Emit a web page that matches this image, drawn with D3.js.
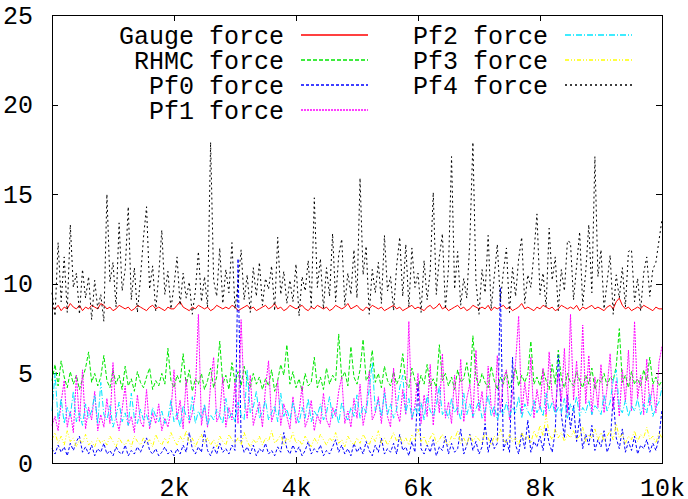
<!DOCTYPE html>
<html lang="en">
<head>
<meta charset="UTF-8"/>
<title>Forces</title>
<script src="https://d3js.org/d3.v7.min.js"></script>
<style>
  body { margin: 0; background-color: #fff; }
  text { font-family: "Liberation Mono", "Courier New", monospace; font-size: 25px; fill: #000; }
  .frame { fill: none; stroke: #000; stroke-width: 1; shape-rendering: crispEdges; }
  .axis .domain { display: none; }
  .axis line { stroke: #000; shape-rendering: crispEdges; }
  .series { fill: none; stroke-width: 1; }
  .keyline { stroke-width: 1.6; }
</style>
</head>
<body>
<div id="chart"></div>
<script>
// one sample every 50 steps, 0 .. 10000
var stepSize = 50;

var gauge = [
 8.7,8.6,8.8,8.5,8.7,8.6,8.9,8.7,8.6,8.8, 8.5,8.7,8.6,8.8,8.7,8.6,8.9,8.8,8.6,8.7,
 8.5,8.6,8.8,8.7,8.6,8.7,8.5,8.6,8.8,8.7, 8.6,8.5,8.7,8.8,8.6,8.7,8.6,8.5,8.7,8.6,
 8.6,8.8,9.0,8.7,8.6,8.5,8.7,8.6,8.8,8.7, 8.6,8.7,8.5,8.6,8.8,8.7,8.6,8.7,8.6,8.8,
 8.7,8.5,8.6,8.7,8.8,8.6,8.7,8.5,8.6,8.7, 8.8,8.6,8.7,8.9,8.6,8.7,8.5,8.6,8.8,8.7,
 8.6,8.7,8.8,8.6,8.5,8.7,8.6,8.8,8.7,8.6, 8.7,8.5,8.6,8.8,8.7,8.6,8.7,8.9,8.6,8.7,
 8.8,8.6,8.5,8.7,8.6,8.8,8.7,8.6,8.7,8.5, 8.6,8.7,8.8,8.6,8.7,8.5,8.6,8.7,8.8,8.6,
 8.7,8.6,8.5,8.7,8.8,8.6,8.7,8.9,8.6,8.7, 8.5,8.6,8.7,8.8,8.6,8.7,8.5,8.6,8.8,8.7,
 8.6,8.7,8.6,8.8,8.5,8.7,8.6,8.7,8.8,8.6, 8.7,8.5,8.6,8.7,8.9,8.6,8.7,8.6,8.5,8.7,
 8.6,8.8,8.7,8.6,8.7,8.5,8.6,8.8,8.7,8.6, 8.7,8.6,8.8,8.5,8.7,8.6,8.7,8.8,8.6,8.7,
 8.6,8.5,8.7,8.8,8.6,9.0,9.2,8.8,8.6,8.7, 8.5,8.6,8.7,8.6,8.8,8.7,8.6,8.5,8.7,8.6,
 8.6];

var rhmc = [
 4.6,5.5,4.3,5.7,4.8,4.2,5.1,4.4,4.9,4.1, 4.7,5.3,6.2,4.5,5.0,4.3,4.8,6.0,4.6,4.2,
 5.2,4.4,4.9,4.1,5.4,4.3,4.7,4.0,5.1,4.5, 4.2,4.8,5.3,4.1,4.6,4.3,5.0,4.4,6.4,4.6,
 4.2,4.9,4.5,6.1,4.3,5.2,4.0,4.7,4.4,5.0, 4.1,4.6,5.3,4.2,4.8,6.8,4.4,4.9,4.1,5.6,
 4.5,5.1,4.3,5.4,4.6,4.2,5.0,4.4,4.8,4.1, 4.7,4.3,5.2,4.0,4.6,5.5,4.9,6.6,4.4,5.1,
 4.2,4.7,4.0,5.0,4.3,4.5,5.9,4.2,4.8,4.1, 5.3,4.4,4.9,4.6,7.2,4.7,5.1,4.3,6.5,4.8,
 4.4,5.2,6.9,4.6,4.9,6.3,4.5,5.0,4.2,5.4, 4.6,4.3,5.1,4.4,4.8,6.1,4.5,4.2,5.3,4.6,
 4.1,4.9,4.4,5.5,4.3,4.7,4.2,6.6,4.6,5.0, 4.3,4.8,4.1,5.2,4.5,4.7,5.6,4.4,7.1,4.8,
 4.3,5.0,4.5,4.2,5.4,4.6,4.1,4.8,4.4,5.1, 4.2,4.7,5.3,4.3,4.9,4.5,5.0,6.8,4.4,4.8,
 4.3,5.2,4.6,4.1,5.5,4.4,6.3,4.7,4.2,5.0, 4.5,4.3,5.1,4.6,4.2,4.9,4.4,5.3,4.1,4.7,
 4.5,5.0,4.3,4.8,4.6,5.4,7.5,4.5,4.9,4.2, 5.1,4.4,4.7,4.3,5.2,4.6,5.9,4.4,4.8,4.3,
 4.6];

var pf0 = [
 0.8,0.5,1.0,0.6,0.9,0.4,1.1,0.7,1.2,1.5, 0.6,0.9,0.5,1.0,0.4,0.8,0.6,1.1,0.5,0.7,
 0.4,0.9,0.6,0.5,1.0,0.4,0.7,0.5,0.9,0.6, 1.0,1.4,0.7,0.5,0.8,0.4,0.6,0.9,0.5,0.7,
 0.4,0.8,0.5,1.0,0.6,1.7,0.8,0.5,0.9,0.6, 1.8,0.7,0.4,0.9,0.5,1.1,0.6,0.8,0.5,1.0,
 0.7,11.4,1.2,0.6,0.9,0.5,1.0,0.4,0.8,0.6, 1.1,0.5,0.7,0.4,0.9,0.6,1.7,0.8,0.5,1.0,
 0.6,0.9,0.4,0.7,1.2,0.5,0.8,0.6,1.0,0.4, 0.7,0.5,0.9,1.3,0.6,1.0,0.5,0.8,0.4,1.1,
 0.6,0.9,0.5,1.2,0.7,0.4,1.0,0.6,1.4,0.5, 0.8,0.6,1.1,0.5,1.6,0.7,0.9,0.4,1.2,0.6,
 4.5,0.8,0.5,1.0,0.6,1.3,0.4,0.9,0.7,1.5, 0.5,1.1,0.6,0.8,1.9,0.5,1.0,1.6,0.7,1.2,
 0.5,0.9,2.2,0.6,1.4,0.8,1.1,9.8,0.7,1.3, 0.6,5.9,1.0,0.5,1.7,0.8,2.4,0.6,1.2,0.9,
 1.5,0.7,2.0,1.1,0.6,1.8,6.0,2.7,1.4,3.8, 1.9,3.2,1.2,2.5,0.8,1.6,1.0,2.1,0.7,1.3,
 0.9,1.8,0.6,1.1,3.7,1.4,0.8,1.9,0.6,1.2, 0.7,1.5,0.5,1.0,0.8,1.3,0.6,1.1,0.7,1.4,
 3.0];

var pf1 = [
 2.1,2.6,1.8,3.4,4.6,2.0,2.9,1.7,4.9,2.3, 5.2,1.9,3.1,2.4,4.0,1.8,2.7,2.0,3.6,2.2,
 5.6,2.5,1.8,3.0,4.3,2.1,2.6,1.7,3.8,2.3, 2.0,4.1,1.9,2.8,2.2,3.3,1.8,2.5,2.0,2.9,
 5.2,2.4,3.5,1.9,4.7,2.2,2.8,3.9,8.3,2.1, 3.2,2.0,4.4,5.9,2.3,2.7,4.8,2.0,3.1,2.4,
 4.5,2.2,8.0,3.6,2.5,4.9,2.1,2.8,3.4,2.0, 4.2,5.7,2.3,2.9,4.6,2.1,3.3,2.6,1.9,3.7,
 2.2,2.8,4.3,2.0,2.5,3.5,1.8,2.7,2.2,3.9, 2.4,2.0,3.1,2.6,4.0,4.8,2.2,2.9,2.0,3.6,
 2.5,4.4,2.1,3.0,5.1,2.4,2.8,3.7,2.2,4.2, 2.6,2.0,5.3,2.9,2.3,4.1,2.7,7.9,2.4,3.2,
 5.0,2.2,3.8,2.6,5.5,2.1,4.3,2.8,6.1,2.5, 3.4,2.2,4.9,2.7,5.8,2.3,3.6,4.4,2.5,6.3,
 2.9,4.0,2.3,5.4,3.1,2.6,6.0,2.8,4.7,5.2, 2.4,3.9,5.6,8.2,2.7,4.5,3.2,5.9,2.5,4.1,
 3.0,5.3,2.6,6.2,3.7,2.9,5.0,3.4,6.4,2.8, 8.3,3.5,5.7,2.9,7.7,3.3,6.0,2.7,4.8,3.1,
 5.5,2.8,4.2,6.1,3.0,4.6,2.6,5.2,3.4,6.3, 2.9,7.9,3.6,4.9,2.7,5.8,3.2,4.4,2.8,5.6,
 6.5];

var pf2 = [
 2.9,5.0,2.4,3.6,2.2,3.1,2.6,4.0,2.3,2.8, 2.1,3.3,2.5,2.9,3.8,2.2,4.5,2.7,2.4,3.2,
 2.0,2.6,3.4,2.3,2.8,2.1,3.9,2.5,2.2,3.0, 2.4,2.7,2.1,3.1,2.6,2.3,2.9,2.2,2.5,3.5,
 2.3,2.8,2.0,3.2,2.6,2.4,3.7,2.2,2.9,2.5, 3.3,2.1,2.7,2.4,3.0,2.6,2.2,3.6,2.5,2.8,
 2.3,3.4,2.7,2.4,5.2,2.8,3.1,4.0,2.5,2.9, 3.5,2.4,2.8,3.2,2.3,3.9,2.6,3.0,2.4,3.4,
 2.7,2.2,3.1,2.5,3.6,2.3,2.9,2.6,3.3,2.4, 2.8,3.7,2.5,3.0,2.2,3.4,2.7,2.4,3.1,2.6,
 3.8,2.5,3.2,2.8,4.1,5.6,2.9,3.5,2.6,3.9, 2.7,3.3,2.5,3.0,4.2,4.9,2.8,3.6,2.5,3.1,
 2.7,3.4,2.4,3.8,2.9,2.6,3.2,4.3,2.7,3.0, 2.5,3.6,2.8,3.1,2.4,3.9,2.7,3.3,2.6,3.0,
 3.5,2.5,2.9,3.8,2.6,3.2,2.4,3.0,2.7,3.4, 2.6,3.1,2.8,3.7,2.5,3.3,2.9,2.6,3.5,2.8,
 3.2,2.6,3.9,2.9,3.4,2.7,3.1,2.8,3.6,2.5, 3.3,2.9,3.7,2.6,3.1,2.8,3.5,2.7,3.2,3.0,
 2.7,3.8,2.9,3.4,4.6,5.2,3.1,2.8,3.5,2.6, 3.2,2.9,3.6,2.7,3.3,2.8,3.9,2.6,3.1,3.4,
 4.2];

var pf3 = [
 1.3,1.7,1.1,1.5,1.0,1.8,1.2,1.4,0.9,1.3, 1.1,1.6,1.0,1.2,0.9,1.4,1.1,1.3,1.0,1.5,
 1.2,0.9,1.4,1.1,1.0,1.3,0.9,1.5,1.2,1.0, 1.4,1.1,1.3,0.9,1.6,1.2,1.0,1.4,1.1,1.7,
 1.3,1.0,1.5,1.2,1.8,1.1,1.4,0.9,1.3,1.6, 1.1,1.4,1.0,1.3,0.9,1.5,1.2,1.0,1.6,1.3,
 1.1,1.4,1.0,1.7,1.2,0.9,1.3,1.1,1.5,1.0, 1.4,1.2,1.8,1.1,1.3,1.6,1.0,1.4,1.2,1.7,
 1.1,1.3,1.0,1.5,1.2,0.9,1.4,1.1,1.6,1.3, 1.0,1.4,1.2,1.7,1.1,1.3,0.9,1.5,1.2,1.0,
 1.4,1.1,1.6,1.3,1.0,1.5,1.2,1.8,1.1,1.4, 1.0,1.3,1.7,1.2,1.5,1.1,1.4,1.0,1.6,1.3,
 1.9,1.2,1.5,1.0,1.4,1.7,1.1,1.3,1.6,1.2, 1.0,1.5,1.3,1.8,1.1,1.4,1.0,1.6,1.2,1.5,
 1.3,1.1,1.7,1.4,1.0,1.5,1.2,1.9,1.3,1.1, 1.6,1.2,1.4,1.0,1.7,1.3,1.5,1.1,1.8,1.4,
 2.1,1.5,2.7,1.6,1.3,1.9,1.4,1.7,1.2,1.6, 1.4,1.8,1.3,1.5,2.0,1.2,1.6,1.4,1.9,1.3,
 1.7,1.2,1.5,1.8,1.3,2.2,1.4,1.6,1.1,1.5, 1.3,1.8,1.2,1.6,1.4,2.0,1.3,1.5,1.1,1.7,
 1.4];

var pf4 = [
 9.5,8.2,12.3,9.0,11.5,8.4,13.3,9.8,10.6,8.3, 10.8,9.2,10.4,8.0,10.2,8.6,9.4,7.9,15.0,10.1,
 11.2,8.7,13.4,9.6,10.8,14.3,9.1,10.9,8.4,10.3, 12.6,14.3,9.7,11.0,8.5,10.5,13.0,9.4,10.7,8.6,
 9.9,11.5,8.8,10.6,9.2,10.1,8.3,9.6,11.8,9.0, 10.4,8.7,17.9,10.2,9.3,12.0,8.9,10.8,9.5,12.3,
 8.6,10.0,11.9,9.1,10.5,8.4,10.9,9.3,11.2,8.8, 10.3,9.7,11.0,8.5,12.6,9.4,10.7,8.9,10.2,9.0,
 11.1,8.2,10.4,9.6,11.3,8.7,14.8,9.8,11.4,8.6, 10.9,9.3,12.8,9.0,11.6,12.5,8.8,10.6,9.4,11.9,
 9.2,15.9,10.5,12.1,8.3,10.8,9.5,11.2,8.9,12.7, 9.6,10.4,8.5,11.0,12.6,9.3,12.2,8.7,12.0,9.8,
 10.6,8.4,11.3,9.1,10.7,15.1,9.4,11.5,12.8,8.6, 10.9,17.1,9.7,11.8,8.8,10.3,9.2,12.4,17.9,10.1,
 8.3,10.8,9.5,12.7,8.6,10.4,12.2,9.0,10.7,12.0, 8.4,10.9,9.3,11.4,12.6,8.9,10.5,9.8,11.7,13.9,
 9.4,10.6,8.7,13.1,10.2,11.5,8.5,10.8,9.6,12.4, 12.3,9.1,11.0,12.9,8.8,10.7,13.3,9.5,17.1,10.4,
 11.9,8.6,10.1,11.6,8.3,10.5,9.2,10.9,8.7,11.8, 11.9,9.0,10.3,8.5,10.6,11.5,9.3,10.8,11.2,12.4,
 13.6];

var seriesNames   = ["Gauge force", "RHMC force", "Pf0 force", "Pf1 force", "Pf2 force", "Pf3 force", "Pf4 force"];
var seriesValues  = [gauge, rhmc, pf0, pf1, pf2, pf3, pf4];
var seriesColours = ["#ff0000", "#00e600", "#0000ff", "#ff00ff", "#00e6ff", "#ffff00", "#000000"];
var seriesDashes  = ["none", "4,2", "3,2", "2,1", "6,2,1,2", "4,2,1,2,1,2", "2,3"];

var xTicks = [2000, 4000, 6000, 8000, 10000];
var xTickLabels = ["2k", "4k", "6k", "8k", "10k"];
var yTicks = [0, 5, 10, 15, 20, 25];

var margin = {top: 15, right: 26, bottom: 36, left: 52};
var w = 610;
var h = 448;

var xScale = d3.scaleLinear().domain([0, 10000]).range([0, w]);
var yScale = d3.scaleLinear().domain([0, 25]).range([h, 0]);

var svg = d3.select("#chart")
	.append("svg")
	.attr("width", w + margin.left + margin.right)
	.attr("height", h + margin.top + margin.bottom)
	.append("g")
	.attr("transform", "translate(" + margin.left + "," + margin.top + ")");

// axes, ticks pointing inward and mirrored
svg.append("g").attr("class", "axis")
	.call(d3.axisLeft(yScale).tickValues(yTicks).tickSize(-6).tickPadding(19));
svg.append("g").attr("class", "axis")
	.attr("transform", "translate(" + w + ",0)")
	.call(d3.axisRight(yScale).tickValues(yTicks).tickSize(-6).tickFormat(""));
svg.append("g").attr("class", "axis")
	.attr("transform", "translate(0," + h + ")")
	.call(d3.axisBottom(xScale).tickValues(xTicks).tickSize(-6).tickPadding(15)
		.tickFormat(function(d, i) { return xTickLabels[i]; }));
svg.append("g").attr("class", "axis")
	.call(d3.axisTop(xScale).tickValues(xTicks).tickSize(-6).tickFormat(""));

var line = d3.line()
	.x(function(d, i) { return xScale(i * stepSize); })
	.y(function(d) { return yScale(d); });

seriesValues.forEach(function(vals, k) {
	svg.append("path")
		.datum(vals)
		.attr("class", "series")
		.attr("stroke", seriesColours[k])
		.attr("stroke-dasharray", seriesDashes[k])
		.attr("d", line);
});

// key, two columns like gnuplot
var keyCols = [{textEnd: 232, lineStart: 249, lineEnd: 316}, {textEnd: 496, lineStart: 513, lineEnd: 580}];
seriesNames.forEach(function(name, k) {
	var col = keyCols[k < 4 ? 0 : 1];
	var row = k < 4 ? k : k - 4;
	var y = Math.round(19.5 + row * 25.3);
	svg.append("text")
		.attr("x", col.textEnd)
		.attr("y", y)
		.attr("dy", "0.35em")
		.attr("text-anchor", "end")
		.text(name);
	svg.append("line")
		.attr("class", "keyline")
		.attr("x1", col.lineStart).attr("x2", col.lineEnd)
		.attr("y1", y).attr("y2", y)
		.attr("stroke", seriesColours[k])
		.attr("stroke-dasharray", seriesDashes[k]);
});

svg.append("rect")
	.attr("class", "frame")
	.attr("x", 0).attr("y", 0)
	.attr("width", w).attr("height", h);
</script>
</body>
</html>
